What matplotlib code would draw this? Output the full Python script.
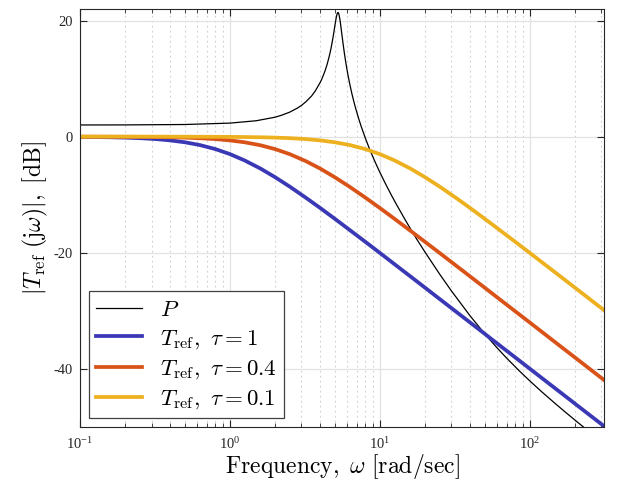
import matplotlib
matplotlib.use("Agg")
import matplotlib.pyplot as plt
from matplotlib.ticker import FixedLocator, FixedFormatter, LogLocator, NullFormatter

plt.rcParams['mathtext.fontset'] = 'cm'
plt.rcParams['axes.unicode_minus'] = False

# frequency grid for the reference models [rad/s]
w_ref = [0.1, 0.125, 0.16, 0.2, 0.25, 0.32, 0.4, 0.5, 0.63, 0.8, 1, 1.25, 1.6, 2,
         2.5, 3.2, 4, 5, 6.3, 8, 10, 12.5, 16, 20, 25, 32, 40, 50, 63, 80, 100,
         125, 160, 200, 250, 316]
# |T_ref| in dB
t_tau1 = [-0.04, -0.07, -0.11, -0.17, -0.26, -0.42, -0.65, -0.97, -1.45, -2.15,
          -3.01, -4.09, -5.51, -6.99, -8.60, -10.51, -12.30, -14.15, -16.10,
          -18.13, -20.04, -21.97, -24.10, -26.03, -27.97, -30.11, -32.04, -33.98,
          -35.99, -38.06, -40.00, -41.94, -44.08, -46.02, -47.96, -49.99]
t_tau04 = [-0.01, -0.01, -0.02, -0.03, -0.04, -0.07, -0.11, -0.17, -0.27, -0.42,
           -0.65, -0.97, -1.49, -2.15, -3.01, -4.21, -5.51, -6.99, -8.66, -10.51,
           -12.30, -14.15, -16.23, -18.13, -20.04, -22.17, -24.10, -26.03, -28.04,
           -30.11, -32.04, -33.98, -36.13, -38.06, -40.00, -42.04]
t_tau01 = [0.0, 0.0, 0.0, 0.0, 0.0, 0.0, -0.01, -0.01, -0.02, -0.03,
           -0.04, -0.07, -0.11, -0.17, -0.26, -0.42, -0.65, -0.97, -1.45, -2.15,
           -3.01, -4.09, -5.51, -6.99, -8.60, -10.51, -12.30, -14.15, -16.10,
           -18.13, -20.04, -21.97, -24.10, -26.03, -27.97, -30.00]

# plant P, denser around the resonance
w_p = [0.1, 0.2, 0.5, 1, 1.5, 2, 2.2, 2.5, 2.8, 3, 3.2, 3.5, 3.7, 4, 4.1, 4.3,
       4.45, 4.6, 4.7, 4.8, 4.9, 5.0, 5.05, 5.1, 5.15, 5.2, 5.23, 5.27, 5.31,
       5.35, 5.4, 5.45, 5.5, 5.6, 5.7, 5.8, 5.9, 6.0, 6.15, 6.3, 6.5, 6.7, 6.9,
       7.2, 7.5, 8, 8.5, 9, 9.5, 10, 11, 12, 13, 15, 17.5, 20, 25, 30, 40, 50,
       60, 70, 85, 100, 120, 150, 175, 200, 225, 250]
p_db = [2.01, 2.02, 2.09, 2.33, 2.74, 3.35, 3.67, 4.21, 4.88, 5.38, 5.98, 6.99,
        7.83, 9.34, 9.92, 11.27, 12.46, 13.88, 14.96, 16.17, 17.51, 18.95, 19.64,
        20.32, 20.86, 21.25, 21.37, 21.39, 21.24, 20.93, 20.37, 19.68, 18.90,
        17.31, 15.77, 14.37, 13.10, 11.94, 10.40, 9.05, 7.46, 6.08, 4.84, 3.22,
        1.79, -0.26, -2.01, -3.54, -4.91, -6.15, -8.32, -10.20, -11.84, -14.66,
        -17.55, -19.90, -23.67, -26.59, -30.90, -33.97, -36.31, -38.16, -40.36,
        -42.10, -43.97, -46.15, -47.61, -48.85, -49.93, -50.88]

xtick_vals = [0.1, 1, 10, 100]
xtick_labels = [r'$\mathregular{10^{-1}}$', r'$\mathregular{10^{0}}$',
                r'$\mathregular{10^{1}}$', r'$\mathregular{10^{2}}$']
ytick_vals = [-40, -20, 0, 20]
ytick_labels = ['-40', '-20', '0', '20']

fig = plt.figure(figsize=(6.37, 4.94), dpi=100)
ax = fig.add_axes([0.1256, 0.1362, 0.8226, 0.8456])

ax.semilogx(w_p, p_db, color='black', lw=0.9, label=r'$P$')
ax.semilogx(w_ref, t_tau1, color='#3a38b4', lw=2.7, label=r'$T_{\mathrm{ref}},\ \tau=1$')
ax.semilogx(w_ref, t_tau04, color='#d95319', lw=2.7, label=r'$T_{\mathrm{ref}},\ \tau=0.4$')
ax.semilogx(w_ref, t_tau01, color='#edb120', lw=2.7, label=r'$T_{\mathrm{ref}},\ \tau=0.1$')

ax.set_xlim(0.1, 10 ** 2.495)
ax.set_ylim(-50, 22)

ax.xaxis.set_major_locator(FixedLocator(xtick_vals))
ax.xaxis.set_major_formatter(FixedFormatter(xtick_labels))
ax.xaxis.set_minor_locator(LogLocator(base=10, subs=range(2, 10), numticks=20))
ax.xaxis.set_minor_formatter(NullFormatter())
ax.yaxis.set_major_locator(FixedLocator(ytick_vals))
ax.yaxis.set_major_formatter(FixedFormatter(ytick_labels))

ax.grid(True, which='major', color='#e2e2e2', lw=0.9, ls='-')
ax.grid(True, which='minor', axis='x', color='#cfcfcf', lw=0.8, ls=(0, (1.5, 3)))
ax.set_axisbelow(True)

ax.tick_params(which='both', direction='in', top=True, right=True,
               colors='#262626', labelcolor='#262626')
ax.tick_params(which='major', length=5, labelsize=10.5)
ax.tick_params(axis='x', which='major', pad=7)
ax.tick_params(axis='y', which='major', pad=5)
ax.tick_params(which='minor', length=3)
for lab in ax.get_xticklabels() + ax.get_yticklabels():
    lab.set_fontfamily('Liberation Serif')
for sp in ax.spines.values():
    sp.set_color('#262626')
    sp.set_linewidth(0.8)

ax.set_xlabel(r'$\mathrm{Frequency,}\ \omega\ \mathrm{[rad/sec]}$', fontsize=17, labelpad=0)
ax.set_ylabel(r'$|T_{\mathrm{ref}}\ (\mathrm{j}\omega)|,\ \mathrm{[dB]}$', fontsize=17, labelpad=3)

leg = ax.legend(loc='lower left', bbox_to_anchor=(0.017, 0.021), borderaxespad=0,
                fontsize=16.5, fancybox=False, framealpha=1, edgecolor='#404040',
                handlelength=2.0, labelspacing=0.25, borderpad=0.3, handletextpad=0.8)
leg.get_frame().set_linewidth(0.9)

fig.savefig('out.png', dpi=100)
